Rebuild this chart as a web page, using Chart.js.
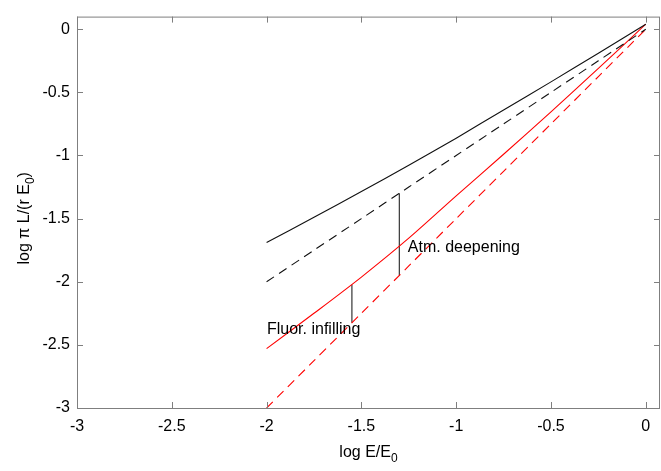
<!DOCTYPE html>
<html>
<head>
<meta charset="utf-8">
<script src="https://cdn.jsdelivr.net/npm/chart.js@4/dist/chart.umd.min.js"></script>
<style>
  html,body{margin:0;padding:0;background:#fff;}
  #wrap{width:661px;height:471px;}
</style>
</head>
<body>
<div id="wrap"><canvas id="c" width="661" height="471"></canvas></div>
<script>
// values
const xs        = [-2, -1.75, -1.5, -1.25, -1, -0.75, -0.5, -0.25, 0];
const blackFull = [-1.69, -1.49, -1.286, -1.078, -0.863, -0.639, -0.417, -0.19, 0.04];
const blackDash = [-2, -1.75, -1.5, -1.25, -1, -0.75, -0.5, -0.25, 0];
const redFull   = [-2.53, -2.25, -1.963, -1.655, -1.32, -0.99, -0.655, -0.31, 0.04];
const redDash   = [-3, -2.625, -2.25, -1.875, -1.5, -1.125, -0.75, -0.375, 0];

// the two marker lines
const atmX = -1.3,  atmY  = [-1.3, -1.95];
const fluX = -1.55, fluY  = [-2.024, -2.325];

const xTicks = [-3, -2.5, -2, -1.5, -1, -0.5, 0];
const yTicks = [-3, -2.5, -2, -1.5, -1, -0.5, 0];

const notes = [
  {text:'Atm. deepening',   x:-1.255, y:-1.732},
  {text:'Fluor. infilling', x:-1.998, y:-2.38}
];

const pts = ys => xs.map((x,i)=>({x:x, y:ys[i]}));
const FONT = '"Liberation Sans", Arial, sans-serif';
const AXIS_COL = '#7f7f7f';

function line(data, color, dash){
  return {data:data, borderColor:color, borderWidth:1.1, borderDash:dash||[],
          showLine:true, pointRadius:0, tension:0.3, fill:false};
}

function richText(ctx, parts, x, y){
  // parts drawn left to right, centred on x
  let w = 0;
  for(const p of parts){
    ctx.font = (p.sub?'12px ':'16px ') + FONT;
    p.w = ctx.measureText(p.t).width;
    w += p.w;
  }
  let cx = x - w/2;
  for(const p of parts){
    ctx.font = (p.sub?'12px ':'16px ') + FONT;
    ctx.fillText(p.t, cx, y + (p.sub?5:0));
    cx += p.w;
  }
}

const decor = {
  id:'decor',
  afterDatasetsDraw(chart){
    const {ctx, chartArea:a, scales:{x, y}} = chart;
    ctx.save();
    // box
    ctx.strokeStyle = AXIS_COL;
    ctx.lineWidth = 1;
    ctx.strokeRect(a.left+0.5, a.top+0.5, a.right-a.left-1, a.bottom-a.top);
    // inward ticks on all sides
    ctx.beginPath();
    for(const v of xTicks){
      const px = Math.round(x.getPixelForValue(v))+0.5;
      ctx.moveTo(px, a.bottom); ctx.lineTo(px, a.bottom-6);
      ctx.moveTo(px, a.top);    ctx.lineTo(px, a.top+6);
    }
    for(const v of yTicks){
      const py = Math.round(y.getPixelForValue(v))+0.5;
      ctx.moveTo(a.left, py);  ctx.lineTo(a.left+6, py);
      ctx.moveTo(a.right, py); ctx.lineTo(a.right-6, py);
    }
    ctx.stroke();
    // notes
    ctx.fillStyle = '#000';
    ctx.font = '16px ' + FONT;
    ctx.textBaseline = 'middle';
    ctx.textAlign = 'left';
    for(const n of notes){
      ctx.fillText(n.text, x.getPixelForValue(n.x), y.getPixelForValue(n.y));
    }
    // axis titles
    ctx.textBaseline = 'alphabetic';
    richText(ctx, [{t:'log E/E'},{t:'0',sub:true}], (a.left+a.right)/2, 457);
    ctx.translate(29, (a.top+a.bottom)/2 + 6);
    ctx.rotate(-Math.PI/2);
    richText(ctx, [{t:'log \u03c0 L/(r E'},{t:'0',sub:true},{t:')'}], 0, 0);
    ctx.restore();
  }
};

new Chart(document.getElementById('c'), {
  type:'scatter',
  data:{
    datasets:[
      line(pts(blackFull), '#111'),
      line(pts(blackDash), '#111', [9,6]),
      line(pts(redFull),   '#ff0000'),
      line(pts(redDash),   '#ff0000', [9,6]),
      line(atmY.map(v=>({x:atmX, y:v})), '#222'),
      line(fluY.map(v=>({x:fluX, y:v})), '#222')
    ]
  },
  options:{
    responsive:false,
    animation:false,
    layout:{padding:{top:4, right:1, left:0, bottom:0}},
    plugins:{legend:{display:false}, tooltip:{enabled:false}},
    scales:{
      x:{
        type:'linear', min:-3, max:0.075,
        afterBuildTicks:s=>{ s.ticks = xTicks.map(v=>({value:v})); },
        afterFit:s=>{ s.height = 63; },
        grid:{display:true, drawOnChartArea:false, drawTicks:false, color:'rgba(0,0,0,0)'},
        border:{display:false},
        ticks:{padding:9, color:'#000', font:{family:FONT, size:16}, callback:v=>String(v), maxRotation:0}
      },
      y:{
        type:'linear', min:-3, max:0.1,
        afterBuildTicks:s=>{ s.ticks = yTicks.map(v=>({value:v})); },
        afterFit:s=>{ s.width = 77; },
        grid:{display:true, drawOnChartArea:false, drawTicks:false, color:'rgba(0,0,0,0)'},
        border:{display:false},
        ticks:{padding:7, color:'#000', font:{family:FONT, size:16}, callback:v=>String(v)}
      }
    }
  },
  plugins:[decor]
});
</script>
</body>
</html>
